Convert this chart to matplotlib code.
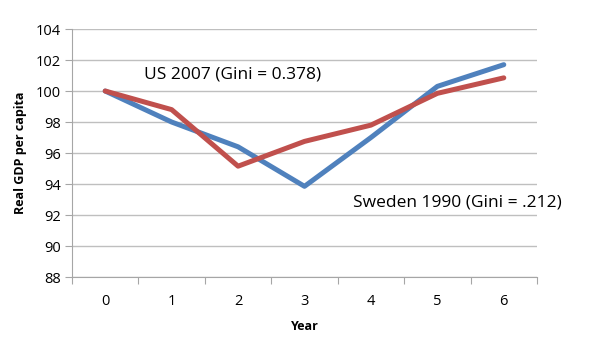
import numpy as np
import matplotlib.pyplot as plt

years = [0, 1, 2, 3, 4, 5, 6]
blue_vals = [100.0, 98.0, 96.4, 93.85, 97.0, 100.3, 101.7]
red_vals = [100.0, 98.8, 95.15, 96.75, 97.8, 99.85, 100.85]
label_us = 'US 2007 (Gini = 0.378)'
label_se = 'Sweden 1990 (Gini = .212)'

plt.rcParams['font.family'] = ['Open Sans', 'DejaVu Sans']

fig = plt.figure(figsize=(5.92, 3.54), dpi=100)
ax = fig.add_axes([0.1216, 0.2175, 0.7855, 0.7005])

ax.plot(years, blue_vals, color='#4F81BD', lw=3.6, solid_capstyle='round', zorder=3)
ax.plot(years, red_vals, color='#C0504D', lw=3.6, solid_capstyle='round', zorder=4)

ax.set_xlim(-0.5, 6.5)
ax.set_ylim(88, 104)
ax.set_yticks(np.arange(88, 105, 2))
ax.yaxis.grid(True, color='#BFBFBF', lw=1)
ax.set_axisbelow(True)

ax.set_xticks(np.arange(-0.5, 7, 1))
ax.set_xticklabels([])
ax.set_xticks(years, minor=True)
ax.set_xticklabels([str(y) for y in years], minor=True)
ax.tick_params(axis='x', which='major', length=5, color='#A6A6A6', direction='out')
ax.tick_params(axis='x', which='minor', length=0, pad=12, labelsize=10.5)
ax.tick_params(axis='y', length=5, color='#A6A6A6', labelsize=10.5, pad=3)

for s in ['top', 'right']:
    ax.spines[s].set_visible(False)
for s in ['left', 'bottom']:
    ax.spines[s].set_color('#A6A6A6')

ax.set_ylabel('Real GDP per capita', fontsize=9, fontweight='bold', labelpad=6)
ax.set_xlabel('Year', fontsize=9, fontweight='bold', labelpad=8)

ax.text(1.91, 101.05, label_us, fontsize=12.5, ha='center', va='center')
ax.text(5.3, 92.8, label_se, fontsize=12.5, ha='center', va='center')

fig.savefig('out.png', dpi=100)
